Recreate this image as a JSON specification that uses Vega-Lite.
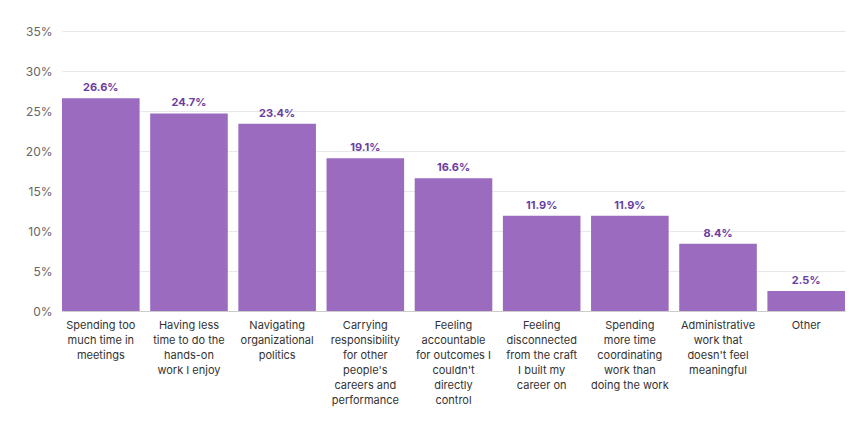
{
  "$schema": "https://vega.github.io/schema/vega-lite/v6.json",
  "width": 783,
  "height": 280,
  "autosize": {"type": "none"},
  "padding": {"left": 62, "top": 31, "right": 21, "bottom": 113},
  "config": {
    "view": {"stroke": null},
    "font": "Inter",
    "axis": {"labelFont": "Inter", "titleFont": "Inter"}
  },
  "data": {
    "values": [
      {"label": "Spending too|much time in|meetings", "value": 26.6},
      {"label": "Having less|time to do the|hands-on|work I enjoy", "value": 24.7},
      {"label": "Navigating|organizational|politics", "value": 23.4},
      {"label": "Carrying|responsibility|for other|people's|careers and|performance", "value": 19.1},
      {"label": "Feeling|accountable|for outcomes I|couldn't|directly|control", "value": 16.6},
      {"label": "Feeling|disconnected|from the craft|I built my|career on", "value": 11.9},
      {"label": "Spending|more time|coordinating|work than|doing the work", "value": 11.9},
      {"label": "Administrative|work that|doesn't feel|meaningful", "value": 8.4},
      {"label": "Other", "value": 2.5}
    ]
  },
  "encoding": {
    "x": {
      "field": "label",
      "type": "nominal",
      "sort": null,
      "scale": {"paddingInner": 0.12, "paddingOuter": 0.0},
      "axis": {
        "title": null,
        "labelAngle": 0,
        "labelExpr": "split(datum.label, '|')",
        "labelFontSize": 11,
        "labelColor": "#333333",
        "labelLineHeight": 15,
        "labelPadding": 8,
        "ticks": false,
        "domainColor": "#cccccc"
      }
    },
    "y": {
      "field": "value",
      "type": "quantitative",
      "scale": {"domain": [0, 35]},
      "axis": {
        "title": null,
        "values": [0, 5, 10, 15, 20, 25, 30, 35],
        "labelExpr": "datum.value + '%'",
        "labelFontSize": 12,
        "labelColor": "#666666",
        "labelPadding": 10,
        "ticks": false,
        "domain": false,
        "gridColor": "#e8e8e8"
      }
    }
  },
  "layer": [
    {"mark": {"type": "bar", "color": "#9b6bc0"}},
    {
      "transform": [{"calculate": "format(datum.value, '.1f') + '%'", "as": "txt"}],
      "mark": {"type": "text", "dy": -10, "fontSize": 11, "fontWeight": "bold", "color": "#6a3ea1"},
      "encoding": {"text": {"field": "txt"}}
    }
  ]
}
